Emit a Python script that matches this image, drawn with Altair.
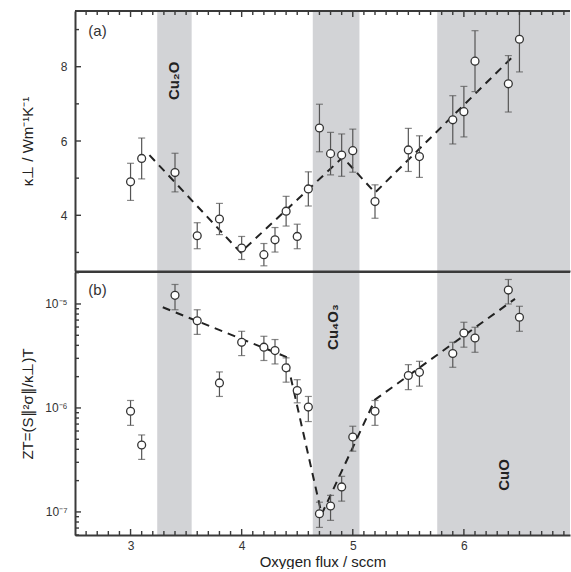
import altair as alt
import pandas as pd

# Oxygen flux (sccm) of each film
flux = [3.0, 3.1, 3.4, 3.6, 3.8, 4.0, 4.2, 4.3, 4.4, 4.5, 4.6, 4.7,
        4.8, 4.9, 5.0, 5.2, 5.5, 5.6, 5.9, 6.0, 6.1, 6.4, 6.5]

# (a) cross-plane thermal conductivity, W m^-1 K^-1
kappa = [4.90, 5.53, 5.15, 3.45, 3.90, 3.12, 2.94, 3.34, 4.11, 3.43, 4.71, 6.35,
         5.66, 5.62, 5.74, 4.37, 5.76, 5.58, 6.57, 6.79, 8.15, 7.54, 8.74]
kappa_err = [0.50, 0.55, 0.52, 0.35, 0.42, 0.31, 0.30, 0.33, 0.40, 0.33, 0.46, 0.64,
             0.57, 0.57, 0.58, 0.45, 0.58, 0.56, 0.65, 0.68, 0.82, 0.76, 0.88]

# (b) figure of merit ZT with lower / upper error limits
zt = [9.3e-7, 4.4e-7, 1.21e-5, 6.9e-6, 1.74e-6, 4.28e-6, 3.84e-6, 3.56e-6, 2.43e-6,
      1.47e-6, 1.02e-6, 9.6e-8, 1.14e-7, 1.74e-7, 5.26e-7, 9.3e-7, 2.05e-6, 2.2e-6,
      3.34e-6, 5.26e-6, 4.71e-6, 1.36e-5, 7.45e-6]
zt_lo = [6.8e-7, 3.2e-7, 8.8e-6, 5.1e-6, 1.29e-6, 3.19e-6, 2.86e-6, 2.65e-6, 1.77e-6,
         1.12e-6, 7.4e-7, 7.1e-8, 8.3e-8, 1.27e-7, 3.84e-7, 6.8e-7, 1.5e-6, 1.62e-6,
         2.46e-6, 3.84e-6, 3.43e-6, 1.0e-5, 5.46e-6]
zt_hi = [1.18e-6, 5.5e-7, 1.54e-5, 8.8e-6, 2.22e-6, 5.46e-6, 4.89e-6, 4.55e-6, 3.03e-6,
         1.87e-6, 1.29e-6, 1.24e-7, 1.44e-7, 2.2e-7, 6.67e-7, 1.18e-6, 2.61e-6, 2.81e-6,
         4.28e-6, 6.67e-6, 5.97e-6, 1.72e-5, 9.5e-6]

# dashed guide lines
kappa_fit_x = [3.17, 3.99, 4.91, 5.20, 6.43]
kappa_fit_y = [5.62, 3.00, 5.56, 4.61, 8.24]
zt_fit_x = [3.29, 4.40, 4.72, 5.20, 6.46]
zt_fit_y = [9.3e-6, 3.1e-6, 9.5e-8, 1.2e-6, 1.12e-5]

# x-axis extent and single-phase regions (the CuO region runs to the edge)
x_min, x_max = 2.5, 6.955
phase_start = [3.24, 4.64, 5.76]
phase_end = [3.55, 5.06, x_max]

# phase labels
top_phase_names = ["Cu₂O"]
top_phase_x = [3.39]
top_phase_y = [7.62]
bot_phase_names = ["Cu₄O₃", "CuO"]
bot_phase_x = [4.82, 6.36]
bot_phase_y = [6.0e-6, 2.27e-7]

# axis ticks and labels
x_major = [3, 4, 5, 6]
x_minor = [round(2.6 + 0.1 * i, 1) for i in range(44)
           if abs((2.6 + 0.1 * i) - round(2.6 + 0.1 * i)) > 1e-6]
k_major = [4, 6, 8]
k_minor = [3, 5, 7, 9]
zt_major = [1e-7, 1e-6, 1e-5]
zt_major_labels = ["10⁻⁷", "10⁻⁶", "10⁻⁵"]
zt_minor = [k * 10.0 ** e for e in (-8, -7, -6, -5) for k in range(2, 10)
            if 6e-8 <= k * 10.0 ** e <= 2.03e-5]

W = 495
H1 = 260
H2 = 263
FRAME = "#3a3a3a"
FONT = "Liberation Sans"
BAND = "#d2d3d6"

xscale = alt.Scale(domain=[x_min, x_max], nice=False, zero=False)
kscale = alt.Scale(domain=[2.5, 9.5], nice=False, zero=False)
zscale = alt.Scale(type="log", domain=[6e-8, 2.03e-5], nice=False)

points = pd.DataFrame({"flux": flux, "kappa": kappa,
                       "k_lo": [k - e for k, e in zip(kappa, kappa_err)],
                       "k_hi": [k + e for k, e in zip(kappa, kappa_err)],
                       "zt": zt, "zt_lo": zt_lo, "zt_hi": zt_hi})
bands = pd.DataFrame({"x0": phase_start, "x1": phase_end})
kfit = pd.DataFrame({"x": kappa_fit_x, "y": kappa_fit_y})
zfit = pd.DataFrame({"x": zt_fit_x, "y": zt_fit_y})
top_lab = pd.DataFrame({"x": top_phase_x, "y": top_phase_y, "t": top_phase_names})
bot_lab = pd.DataFrame({"x": bot_phase_x, "y": bot_phase_y, "t": bot_phase_names})


# Axis options live on the first layer of each panel; the other layers only
# share the scales, so their (implicit) axis settings yield to the explicit ones.
def X(field):
    return alt.X(field, type="quantitative", scale=xscale)


def Y(field, scale):
    return alt.Y(field, type="quantitative", scale=scale)


def band_layer(h):
    return alt.Chart(bands).mark_rect(color=BAND, strokeWidth=0).encode(
        x=X("x0"), x2="x1", y=alt.value(0), y2=alt.value(h))


def x_ticks(h, top):
    layers = []
    for vals, ln in ((x_major, 6), (x_minor, 4)):
        df = pd.DataFrame({"v": vals})
        if top:
            enc = dict(y=alt.value(0), y2=alt.value(ln))
        else:
            enc = dict(y=alt.value(h), y2=alt.value(h - ln))
        layers.append(alt.Chart(df).mark_rule(color=FRAME, strokeWidth=1.4).encode(x=X("v"), **enc))
    return layers


def y_ticks(major, minor, scale):
    layers = []
    for vals, ln in ((major, 6), (minor, 4)):
        df = pd.DataFrame({"v": vals})
        layers.append(alt.Chart(df).mark_rule(color=FRAME, strokeWidth=1.4).encode(
            y=Y("v", scale), x=alt.value(0), x2=alt.value(ln)))
    return layers


def top_frame():
    return alt.Chart(pd.DataFrame({"a": [0]})).mark_rule(color=FRAME, strokeWidth=2).encode(
        y=alt.value(0), x=alt.value(0), x2=alt.value(W))


def points_layers(ycol, lo, hi, scale):
    base = alt.Chart(points)
    bars = base.mark_rule(color="#555555", strokeWidth=1.2, clip=True).encode(
        x=X("flux"), y=Y(lo, scale), y2=hi)
    cap_lo = base.mark_tick(orient="horizontal", size=7, thickness=1.2, color="#555555", clip=True).encode(
        x=X("flux"), y=Y(lo, scale))
    cap_hi = base.mark_tick(orient="horizontal", size=7, thickness=1.2, color="#555555", clip=True).encode(
        x=X("flux"), y=Y(hi, scale))
    dots = base.mark_point(shape="circle", filled=False, fill="white", fillOpacity=1,
                           stroke="#333333", strokeWidth=1.3, size=62, opacity=1).encode(
        x=X("flux"), y=Y(ycol, scale))
    return [bars, cap_lo, cap_hi, dots]


# ---------- panel (a) ----------
k_axis_layer = alt.Chart(points).mark_point(opacity=0).encode(
    x=alt.X("flux:Q", scale=xscale,
            axis=alt.Axis(labels=False, ticks=False, tickSize=0, title=None, domain=True,
                          domainColor=FRAME, domainWidth=2, grid=False, zindex=1)),
    y=alt.Y("kappa:Q", scale=kscale,
            axis=alt.Axis(values=k_major, ticks=False, tickSize=0, labelPadding=8, grid=False,
                          domainColor=FRAME, domainWidth=2, zindex=1,
                          title="κ⊥ / Wm⁻¹K⁻¹", titleX=-48, titleY=H1 / 2, titleAngle=270,
                          titleAlign="center", titleBaseline="middle")))

kfit_line = alt.Chart(kfit).mark_line(color="#222222", strokeWidth=2, strokeDash=[8, 6]).encode(
    x=X("x"), y=Y("y", kscale))

top_text = alt.Chart(top_lab).mark_text(angle=270, fontWeight="bold", fontSize=15, font=FONT,
                                        color="#222222", align="center", baseline="middle").encode(
    x=X("x"), y=Y("y", kscale), text="t:N")

tag_a = alt.Chart(pd.DataFrame({"x": [2.62], "y": [8.96], "t": ["(a)"]})).mark_text(
    fontSize=15, font=FONT, color="#333333", align="left", baseline="middle").encode(
    x=X("x"), y=Y("y", kscale), text="t:N")

panel_a = alt.layer(
    k_axis_layer, band_layer(H1), top_text, kfit_line,
    *points_layers("kappa", "k_lo", "k_hi", kscale), tag_a, top_frame(),
    *x_ticks(H1, True), *y_ticks(k_major, k_minor, kscale)
).properties(width=W, height=H1)

# ---------- panel (b) ----------
label_expr = ("datum.value < 5e-7 ? '%s' : datum.value < 5e-6 ? '%s' : '%s'"
              % tuple(zt_major_labels))

z_axis_layer = alt.Chart(points).mark_point(opacity=0).encode(
    x=alt.X("flux:Q", scale=xscale,
            axis=alt.Axis(values=x_major, ticks=False, tickSize=0, labelPadding=5, grid=False,
                          domainColor=FRAME, domainWidth=2, format="d", zindex=1,
                          title="Oxygen flux / sccm", titlePadding=3)),
    y=alt.Y("zt:Q", scale=zscale,
            axis=alt.Axis(values=zt_major, labelExpr=label_expr, ticks=False, tickSize=0,
                          labelPadding=8, grid=False, domainColor=FRAME, domainWidth=2, zindex=1,
                          title="ZT=(S∥²σ∥/κ⊥)T", titleX=-48, titleY=H2 / 2, titleAngle=270,
                          titleAlign="center", titleBaseline="middle")))

zfit_line = alt.Chart(zfit).mark_line(color="#222222", strokeWidth=2, strokeDash=[8, 6]).encode(
    x=X("x"), y=Y("y", zscale))

bot_text = alt.Chart(bot_lab).mark_text(angle=270, fontWeight="bold", fontSize=15, font=FONT,
                                        color="#222222", align="center", baseline="middle").encode(
    x=X("x"), y=Y("y", zscale), text="t:N")

tag_b = alt.Chart(pd.DataFrame({"x": [2.62], "y": [1.36e-5], "t": ["(b)"]})).mark_text(
    fontSize=15, font=FONT, color="#333333", align="left", baseline="middle").encode(
    x=X("x"), y=Y("y", zscale), text="t:N")

panel_b = alt.layer(
    z_axis_layer, band_layer(H2), bot_text, zfit_line,
    *points_layers("zt", "zt_lo", "zt_hi", zscale), tag_b, top_frame(),
    *x_ticks(H2, False), *y_ticks(zt_major, zt_minor, zscale)
).properties(width=W, height=H2)

chart = alt.vconcat(panel_a, panel_b, spacing=0).properties(
    padding={"left": 20, "top": 10, "right": 0, "bottom": 0}
).configure_view(stroke="transparent", strokeWidth=0).configure_axis(
    labelFont=FONT, titleFont=FONT, labelFontSize=12, titleFontSize=15,
    labelColor="#333333", titleColor="#222222", titleFontWeight="normal"
)

chart.save("out.html", embed_options={"renderer": "svg", "actions": False})
